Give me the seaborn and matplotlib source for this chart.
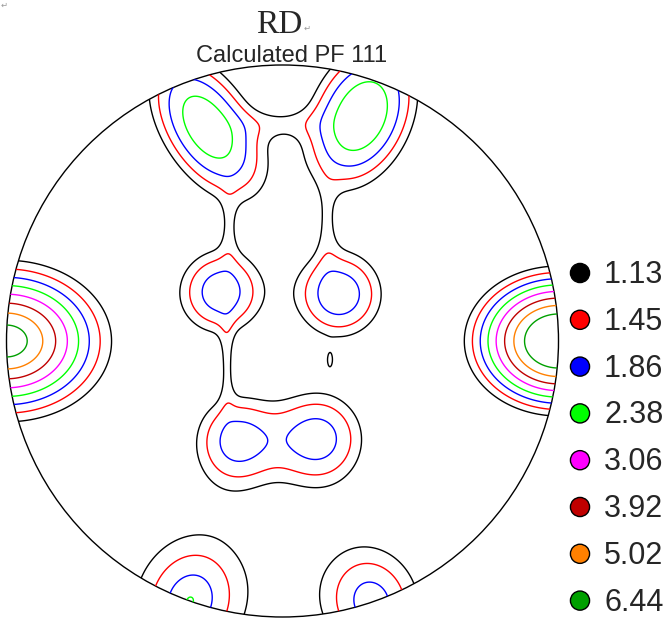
import matplotlib
matplotlib.use("Agg")
import matplotlib.pyplot as plt
import seaborn as sns
import numpy as np
import pandas as pd
from matplotlib.patches import Circle

# -----------------------------
# Contour levels / colours
# -----------------------------
levels = [1.13, 1.45, 1.86, 2.38, 3.06, 3.92, 5.02, 6.44]
level_labels = ["1.13", "1.45", "1.86", "2.38", "3.06", "3.92", "5.02", "6.44"]
level_colors = ["#000000", "#ff0000", "#0000ff", "#00ff00",
                "#ff00ff", "#c00000", "#ff8000", "#00a000"]

# -----------------------------
# Pole density peaks (unit-circle coords)
# -----------------------------
peak_x     = [-1.00, 1.00, -0.335, 0.324, -0.273, 0.285, -0.223, 0.205, -0.168, 0.129, -0.009, -0.194, 0.161, -0.201, 0.172]
peak_y     = [0.00, 0.00, -0.942, -0.946, 0.775, 0.815, 0.178, 0.170, -0.359, -0.352, 0.790, 0.409, 0.420, -0.080, -0.072]
peak_amp   = [7.4, 9.5, 2.05, 1.75, 2.45, 2.6, 1.75, 1.8, 1.55, 1.65, 0.5, 0.42, 0.5, 0.62, 0.52]
peak_sx    = [0.217, 0.196, 0.235, 0.214, 0.27, 0.25, 0.155, 0.16, 0.15, 0.17, 0.13, 0.035, 0.045, 0.03, 0.02]
peak_sy    = [0.167, 0.156, 0.19, 0.18, 0.15, 0.165, 0.155, 0.16, 0.165, 0.175, 0.06, 0.12, 0.14, 0.14, 0.05]
peak_angle = [0, 0, -109.6, -71.1, 122, 66, 0, 0, 0, 0, 0, 0, 0, 0, 0]
peak_power = [1.5, 1.7, 1.2, 1.5, 2, 2, 2, 2, 2, 2, 2, 2, 2, 2, 2]
background = 0.4

# build the density field
g = np.linspace(-1.03, 1.03, 600)
X, Y = np.meshgrid(g, g)
Z = np.full_like(X, background)
for cx, cy, a, sx, sy, ang, p in zip(peak_x, peak_y, peak_amp, peak_sx,
                                     peak_sy, peak_angle, peak_power):
    t = np.deg2rad(ang)
    dx, dy = X - cx, Y - cy
    u = dx * np.cos(t) + dy * np.sin(t)
    v = -dx * np.sin(t) + dy * np.cos(t)
    r = np.sqrt((u / sx) ** 2 + (v / sy) ** 2)
    Z += a * np.exp(-r ** p)

sns.set_style("white")
plt.rcParams["font.family"] = ["Liberation Sans", "DejaVu Sans"]

W, H = 670, 621
fig = plt.figure(figsize=(W / 100, H / 100), dpi=100)

# pole figure axes: circle centre (282.5, 341) px, radius 276 px
R, cxp, cyp = 276, 282.5, 341
lim = 1.03
ax = fig.add_axes([(cxp - lim * R) / W, (H - cyp - lim * R) / H,
                   2 * lim * R / W, 2 * lim * R / H])
ax.set_xlim(-lim, lim)
ax.set_ylim(-lim, lim)
ax.set_aspect("equal")
ax.axis("off")

rim = Circle((0, 0), 1.0, transform=ax.transData, fill=False,
             edgecolor="black", linewidth=1.0)
ax.add_patch(rim)
cs = ax.contour(X, Y, Z, levels=levels, colors=level_colors, linewidths=1.0)
cs.set_clip_path(rim)

# overlay in pixel coordinates for titles and legend
ov = fig.add_axes([0, 0, 1, 1])
ov.set_xlim(0, W)
ov.set_ylim(H, 0)
ov.axis("off")
ov.patch.set_alpha(0)

ov.text(279, 33, "RD", fontsize=24, family="Liberation Serif",
        ha="center", va="baseline")
ov.text(304, 31, "\u21b5", fontsize=6, color="#999999", family="DejaVu Sans",
        ha="left", va="baseline")
ov.text(1, 8, "\u21b5", fontsize=6, color="#999999", family="DejaVu Sans",
        ha="left", va="baseline")
ov.text(292, 62, "Calculated PF 111", fontsize=17, ha="center", va="baseline")

leg = pd.DataFrame({"level": level_labels, "row": np.arange(len(levels))})
leg["px"] = 580
leg["py"] = 273 + 46.8 * leg["row"]
sns.scatterplot(data=leg, x="px", y="py", hue="level", palette=level_colors,
                s=190, edgecolor="black", linewidth=1.0, legend=False, ax=ov)
for _, row in leg.iterrows():
    ov.text(604, row["py"] + 2, row["level"], fontsize=22,
            ha="left", va="center")
ov.set_xlim(0, W)
ov.set_ylim(H, 0)

fig.savefig("out.png", dpi=100)
